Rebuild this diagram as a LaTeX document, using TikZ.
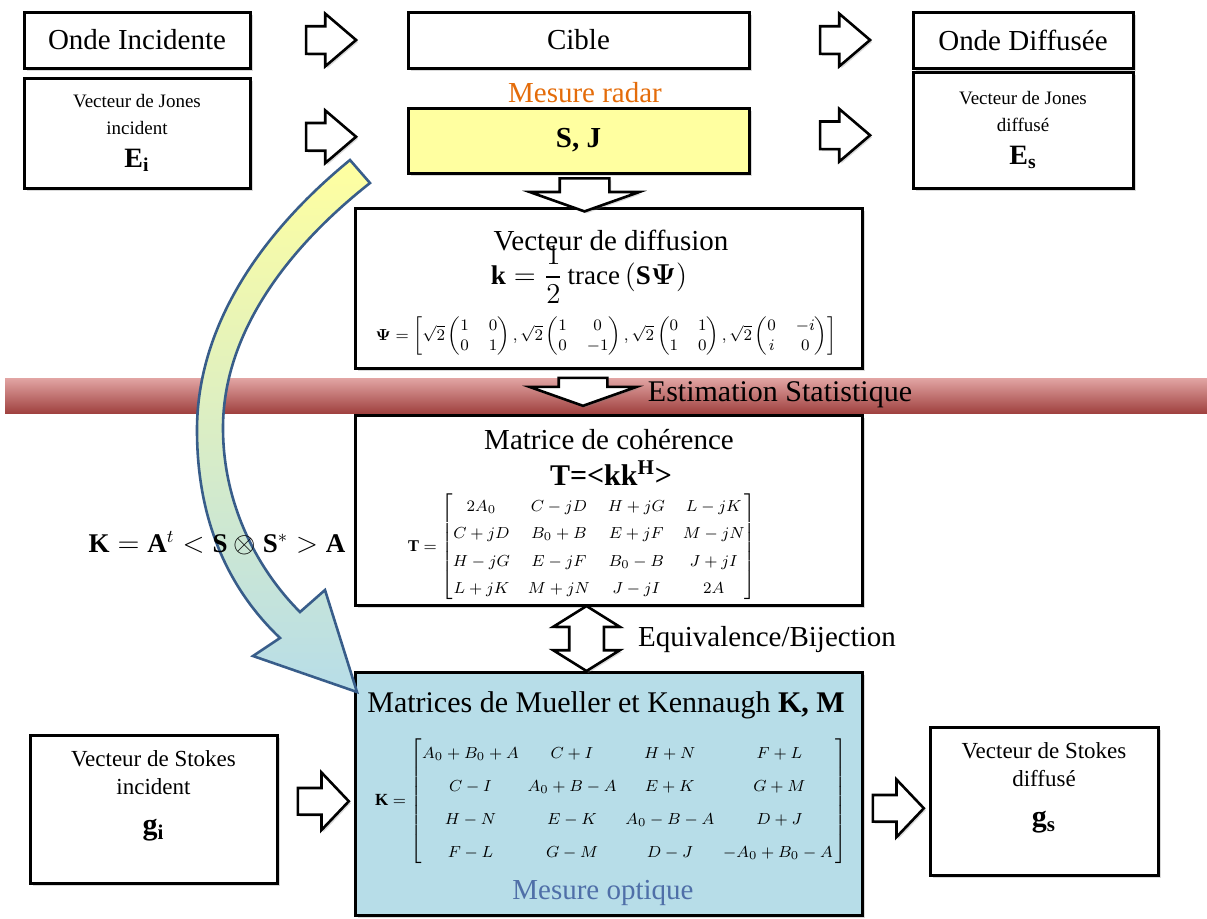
\documentclass[tikz,border=0pt]{standalone}
\usepackage{amsmath}
\usepackage{fontspec}
\setmainfont{Liberation Serif}
\usepackage{tikz}
\usetikzlibrary{shapes.arrows, shadows, calc}

\definecolor{sjyellow}{RGB}{255,255,160}
\definecolor{bandred}{RGB}{218,150,149}
\definecolor{bandlight}{RGB}{226,165,164}
\definecolor{banddark}{RGB}{160,66,64}
\definecolor{optblue}{RGB}{183,221,232}
\definecolor{arrowline}{RGB}{56,93,138}
\definecolor{radarorange}{RGB}{228,108,10}
\definecolor{optiquetxt}{RGB}{79,111,168}

\begin{document}
\begin{tikzpicture}[x=0.5pt, y=-0.5pt,
  box/.style={draw, line width=1.5pt, fill=white, align=center, inner sep=1pt,
    drop shadow={shadow xshift=1.5pt, shadow yshift=-1.5pt, opacity=0.3}},
  bigtxt/.style={font=\fontsize{14.5}{17}\selectfont},
  smalltxt/.style={font=\fontsize{9.5}{13.5}\selectfont},
  midtxt/.style={font=\fontsize{11.5}{14}\selectfont},
  blockarrow/.style={draw, line width=1.3pt, fill=white, inner xsep=0pt,
    drop shadow={shadow xshift=1pt, shadow yshift=-1pt, opacity=0.3}},
  rarrow/.style={blockarrow, single arrow, inner ysep=6.25pt,
    single arrow head extend=6.25pt, single arrow tip angle=81, minimum height=25pt},
  garrow/.style={blockarrow, single arrow, inner ysep=6pt,
    single arrow head extend=7.75pt, single arrow tip angle=93, minimum height=25.5pt},
  darrow/.style={blockarrow, single arrow, rotate=-90, inner ysep=11.75pt,
    single arrow head extend=15pt, single arrow tip angle=141, minimum height=16.5pt}]
\useasboundingbox (0,0) rectangle (1207,918);

% bande d'estimation
\shade[top color=bandlight, middle color=bandred, bottom color=banddark] (5,378) rectangle (1207,413);

% ligne du haut
\node[box, bigtxt, minimum width=113pt, minimum height=28pt] (oi) at (137,40) {Onde Incidente};
\node[box, bigtxt, minimum width=170.5pt, minimum height=28pt] (cible) at (578.5,40) {Cible};
\node[box, bigtxt, minimum width=110pt, minimum height=28pt] (od) at (1023,40) {Onde Diffusée};

\node[box, smalltxt, minimum width=113pt, minimum height=55pt] (ji) at (137,133)
  {Vecteur de Jones\\incident\\[3pt]{\fontsize{14}{16}\selectfont$\mathbf{E}_{\mathbf{i}}$}};
\node[box, bigtxt, fill=sjyellow, minimum width=170.5pt, minimum height=32.5pt] (sj) at (578.5,140.5)
  {\textbf{S, J}};
\node[box, smalltxt, minimum width=110pt, minimum height=58pt] (js) at (1023,130)
  {Vecteur de Jones\\diffusé\\[3pt]{\fontsize{14}{16}\selectfont$\mathbf{E}_{\mathbf{s}}$}};
\node[bigtxt, text=radarorange] (radar) at (585,93) {Mesure radar};

\node[rarrow, xshift=-3pt] (a1) at ($(oi.east)!.5!(cible.west)$) {};
\node[rarrow, xshift=-3pt] (a2) at ($(ji.east)!.5!(sj.west)$) {};
\node[rarrow, xshift=3pt] (a3) at ($(cible.east)!.5!(od.west)$) {};
\node[rarrow, xshift=3pt] (a4) at ($(sj.east)!.5!(js.west)$) {};

% vecteur de diffusion
\node[box, minimum width=253.5pt, minimum height=80pt] (diff) at (608.5,288) {};
\node[bigtxt] (difftitle) at (611,240) {Vecteur de diffusion};
\node[font=\fontsize{13.5}{16}\selectfont] (kvec) at (589,275)
  {$\mathbf{k}=\dfrac{1}{2}\,\mathrm{trace}\,(\mathbf{S}\boldsymbol{\Psi})$};
\node[font=\fontsize{8.4}{10}\selectfont] (psi) at (606,336)
  {$\boldsymbol{\Psi}=\left[\sqrt{2}\begin{pmatrix}1&0\\0&1\end{pmatrix},\sqrt{2}\begin{pmatrix}1&0\\0&-1\end{pmatrix},\sqrt{2}\begin{pmatrix}0&1\\1&0\end{pmatrix},\sqrt{2}\begin{pmatrix}0&-i\\i&0\end{pmatrix}\right]$};

% matrice de coherence
\node[box, minimum width=253.5pt, minimum height=95pt] (coh) at (608.5,510) {};
\node[bigtxt] (cohtitle) at (609,440) {Matrice de cohérence};
\node[font=\fontsize{15}{17}\selectfont\bfseries] (tkk) at (611,473) {T=<kk\textsuperscript{H}>};
\node[font=\fontsize{8.2}{10}\selectfont] (tmat) at (582,547)
  {\setlength{\arraycolsep}{4.5pt}\renewcommand{\arraystretch}{1.38}%
   $\mathbf{T}=\begin{bmatrix}2A_0 & C-jD & H+jG & L-jK\\ C+jD & B_0+B & E+jF & M-jN\\
   H-jG & E-jF & B_0-B & J+jI\\ L+jK & M+jN & J-jI & 2A\end{bmatrix}$};

% matrices de Mueller et Kennaugh
\node[box, fill=optblue, minimum width=253.5pt, minimum height=121.5pt] (mk) at (608.5,793.5) {};
\node[font=\fontsize{15}{17}\selectfont] (mktitle) at (606,705) {Matrices de Mueller et Kennaugh \textbf{K, M}};
\node[font=\fontsize{8.5}{11}\selectfont] (kmat) at (611,801)
  {\setlength{\arraycolsep}{2.2pt}\renewcommand{\arraystretch}{1.5}%
   $\mathbf{K}=\begin{bmatrix}A_0+B_0+A & C+I & H+N & F+L\\ C-I & A_0+B-A & E+K & G+M\\
   H-N & E-K & A_0-B-A & D+J\\ F-L & G-M & D-J & -A_0+B_0-A\,\end{bmatrix}$};
\node[bigtxt, text=optiquetxt] (optique) at (603,893) {Mesure optique};

% vecteurs de Stokes
\node[box, midtxt, minimum width=123.5pt, minimum height=74pt] (si) at (153.5,809)
  {Vecteur de Stokes\\incident\\[6pt]{\fontsize{15}{16}\selectfont$\mathbf{g}_{\mathbf{i}}$}\\[2pt]};
\node[box, midtxt, minimum width=114pt, minimum height=74pt] (sd) at (1044,801)
  {Vecteur de Stokes\\diffusé\\[6pt]{\fontsize{15}{16}\selectfont$\mathbf{g}_{\mathbf{s}}$}\\[2pt]};
\node[garrow, xshift=0.5pt] (a5) at ($(si.east)!.5!(mk.west)$) {};
\node[garrow, xshift=-2pt, yshift=-5.5pt] (a6) at ($(mk.east)!.5!(sd.west)$) {};

% fleches verticales
\node[darrow] (a7) at ($(sj.south)!.5!(diff.north) + (-9,0)$) {};
\node[darrow, inner ysep=11.5pt, single arrow head extend=14.5pt, minimum height=14pt]
  (a8) at ($(diff.south)!.5!(coh.north) + (-25.5,-4)$) {};
\node[blockarrow, double arrow, rotate=90, inner ysep=8pt,
  double arrow head extend=8pt, double arrow tip angle=116, minimum height=32.5pt]
  (a9) at ($(coh.south)!.5!(mk.north) + (-22,0)$) {};
\node[font=\fontsize{15}{17}\selectfont] (estim) at (780,395) {Estimation Statistique};
\node[font=\fontsize{14.5}{17}\selectfont] (equiv) at (767,640) {Equivalence/Bijection};

% grande fleche courbe
\draw[draw=arrowline, line width=1.3pt, top color=sjyellow, middle color=sjyellow!80!optblue, bottom color=optblue]
  (350,160) .. controls (262,232) and (197,325) .. (197,430)
  .. controls (197,530) and (235,595) .. (280,638)
  -- (253,656) -- (357,692) -- (325,590) -- (300,612)
  .. controls (258,570) and (223,505) .. (223,428)
  .. controls (223,335) and (285,250) .. (370,183) -- cycle;
\node[font=\fontsize{13.5}{16}\selectfont] (kform) at (217,543)
  {$\mathbf{K}=\mathbf{A}^t<\mathbf{S}\otimes\mathbf{S}^*>\mathbf{A}$};
\end{tikzpicture}
\end{document}
